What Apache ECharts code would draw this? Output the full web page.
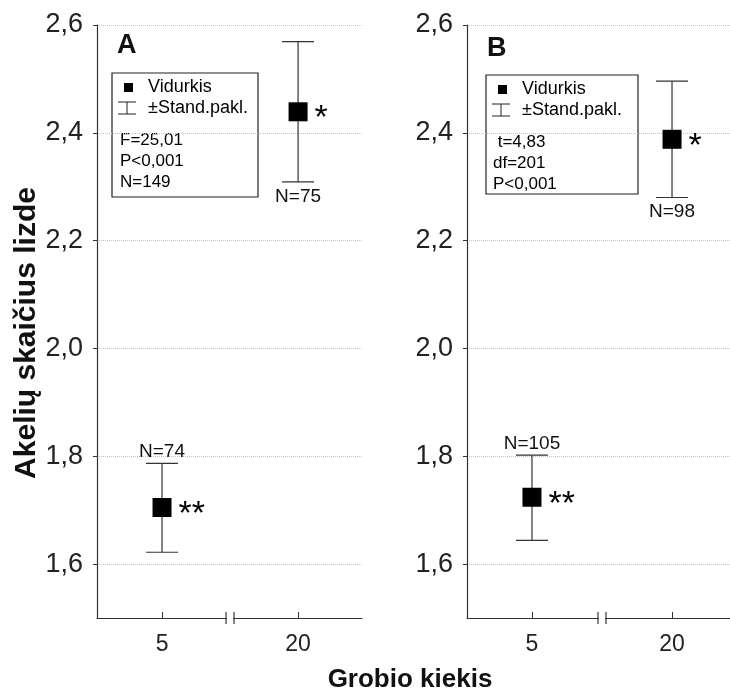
<!DOCTYPE html>
<html><head><meta charset="utf-8">
<script src="https://cdn.jsdelivr.net/npm/echarts@6/dist/echarts.min.js"></script>
<style>html,body{margin:0;padding:0;background:#fff}#c{width:730px;height:693px}</style>
</head><body><div id="c"></div>
<script>
// ---- data ----
const categories = ['5', '20'];
const yTicks = [1.6, 1.8, 2.0, 2.2, 2.4, 2.6];
const yMin = 1.5, yMax = 2.6;
const meanA = [1.705, 2.439];
const upperA = [1.787, 2.569];
const lowerA = [1.622, 2.309];
const nA = ['N=74', 'N=75'];
const starsA = ['**', '*'];
const meanB = [1.724, 2.388];
const upperB = [1.802, 2.496];
const lowerB = [1.644, 2.280];
const nB = ['N=105', 'N=98'];
const starsB = ['**', '*'];
const statsA = ['F=25,01', 'P<0,001', 'N=149'];
const statsB = [' t=4,83', 'df=201', 'P<0,001'];
const legendLabels = ['Vidurkis', '±Stand.pakl.'];
const panelLetters = ['A', 'B'];
const yTitle = 'Akelių skaičius lizde';
const xTitle = 'Grobio kiekis';

// ---- chart ----
const FONT = '"Liberation Sans", Arial, sans-serif';
const chart = echarts.init(document.getElementById('c'), null, {renderer: 'canvas'});

function xAxisCfg(gi, min, max) {
  return {
    type: 'value', gridIndex: gi, min: min, max: max,
    axisLine: {show: true, onZero: false, lineStyle: {color: '#333', width: 1.2}},
    axisTick: {show: true, inside: true, length: 6, customValues: [0, 1], lineStyle: {color: '#333'}},
    axisLabel: {customValues: [0, 1], formatter: v => categories[Math.round(v)], fontSize: 23, color: '#222', margin: 15, fontFamily: FONT},
    splitLine: {show: false}
  };
}
function yAxisCfg(gi) {
  return {
    type: 'value', gridIndex: gi, min: yMin, max: yMax,
    axisLine: {show: true, onZero: false, lineStyle: {color: '#333', width: 1.2}},
    axisTick: {show: true, length: 4, customValues: yTicks, lineStyle: {color: '#333'}},
    axisLabel: {customValues: yTicks, formatter: v => v.toFixed(1).replace('.', ','), fontSize: 27, color: '#222', margin: 14, fontFamily: FONT},
    splitLine: {show: true, lineStyle: {color: '#c4c4c4', type: [1, 1], width: 1}}
  };
}

function errSeries(gi, mean, lower, upper, nLab) {
  return {
    type: 'custom', name: '±Stand.pakl.', xAxisIndex: gi, yAxisIndex: gi, z: 3, clip: false,
    data: mean.map((m, i) => [i, lower[i], upper[i]]),
    renderItem: function (params, api) {
      const x = api.value(0);
      const pLo = api.coord([x, api.value(1)]);
      const pHi = api.coord([x, api.value(2)]);
      const half = 16;
      const ls = {stroke: '#333', lineWidth: 1.2};
      const i = params.dataIndex;
      const above = i === 0;
      return {
        type: 'group',
        children: [
          {type: 'line', shape: {x1: pHi[0], y1: pHi[1], x2: pLo[0], y2: pLo[1]}, style: ls},
          {type: 'line', shape: {x1: pHi[0] - half, y1: pHi[1], x2: pHi[0] + half, y2: pHi[1]}, style: ls},
          {type: 'line', shape: {x1: pLo[0] - half, y1: pLo[1], x2: pLo[0] + half, y2: pLo[1]}, style: ls},
          {type: 'text', style: {
            text: nLab[i], x: pHi[0], y: above ? pHi[1] - 2 : pLo[1] + 5,
            align: 'center', verticalAlign: above ? 'bottom' : 'top',
            font: '19px ' + FONT, fill: '#111'}}
        ]
      };
    }
  };
}
function meanSeries(gi, mean, stars) {
  return {
    type: 'scatter', name: 'Vidurkis', xAxisIndex: gi, yAxisIndex: gi, z: 5,
    symbol: 'rect', symbolSize: 19,
    itemStyle: {color: '#000', opacity: 1},
    label: {show: true, position: 'right', distance: 7, formatter: p => stars[p.dataIndex],
      fontSize: 34, color: '#000', fontFamily: FONT, offset: [0, 7]},
    data: mean.map((m, i) => [i, m])
  };
}
function breakSeries(gi) {
  return {
    type: 'custom', xAxisIndex: gi, yAxisIndex: gi, z: 10, clip: false, silent: true,
    data: [[0.5, yMin]],
    renderItem: function (params, api) {
      const p = api.coord([api.value(0), api.value(1)]);
      const g = 4;
      return {type: 'group', children: [
        {type: 'rect', shape: {x: p[0] - g + 1, y: p[1] - 2, width: 2 * g - 2, height: 4}, style: {fill: '#fff'}},
        {type: 'line', shape: {x1: p[0] - g, y1: p[1] - 6, x2: p[0] - g, y2: p[1] + 6}, style: {stroke: '#333', lineWidth: 1.2}},
        {type: 'line', shape: {x1: p[0] + g, y1: p[1] - 6, x2: p[0] + g, y2: p[1] + 6}, style: {stroke: '#333', lineWidth: 1.2}}
      ]};
    }
  };
}

function legendBox(x, y, w, h, stats, statX) {
  const t = (txt, tx, ty, fs) => ({type: 'text', x: tx, y: ty, style: {text: txt, font: fs + 'px ' + FONT, fill: '#000', verticalAlign: 'middle'}});
  const ch = [
    {type: 'rect', shape: {x: x, y: y, width: w, height: h}, style: {fill: '#fff', stroke: '#222', lineWidth: 1.2}},
    {type: 'rect', shape: {x: x + 12, y: y + 10, width: 9, height: 9}, style: {fill: '#000'}},
    t(legendLabels[0], x + 36, y + 14, 18),
    {type: 'line', shape: {x1: x + 6, y1: y + 29, x2: x + 24, y2: y + 29}, style: {stroke: '#222', lineWidth: 1}},
    {type: 'line', shape: {x1: x + 15, y1: y + 29, x2: x + 15, y2: y + 41}, style: {stroke: '#222', lineWidth: 1}},
    {type: 'line', shape: {x1: x + 6, y1: y + 41, x2: x + 24, y2: y + 41}, style: {stroke: '#222', lineWidth: 1}},
    t(legendLabels[1], x + 36, y + 35, 18)
  ];
  stats.forEach((s, i) => ch.push(t(s, x + statX, y + 67 + i * 21, 17)));
  return {type: 'group', children: ch};
}

const option = {
  animation: false,
  backgroundColor: '#fff',
  grid: [
    {left: 97, top: 25, width: 265, height: 593},
    {left: 467, top: 25, width: 263, height: 593}
  ],
  xAxis: [xAxisCfg(0, -0.478, 1.47), xAxisCfg(1, -0.464, 1.414)],
  yAxis: [yAxisCfg(0), yAxisCfg(1)],
  series: [
    errSeries(0, meanA, lowerA, upperA, nA), meanSeries(0, meanA, starsA), breakSeries(0),
    errSeries(1, meanB, lowerB, upperB, nB), meanSeries(1, meanB, starsB), breakSeries(1)
  ],
  graphic: [
    {type: 'text', x: 117, y: 32, style: {text: panelLetters[0], font: 'bold 27px ' + FONT, fill: '#111'}},
    {type: 'text', x: 487, y: 35, style: {text: panelLetters[1], font: 'bold 27px ' + FONT, fill: '#111'}},
    legendBox(112, 73, 146, 124, statsA, 8),
    legendBox(486, 75, 152, 119, statsB, 7),
    {type: 'text', x: 27, y: 333, rotation: Math.PI / 2,
      style: {text: yTitle, font: 'bold 30px ' + FONT, fill: '#111', align: 'center', verticalAlign: 'middle'}},
    {type: 'text', x: 410, y: 680,
      style: {text: xTitle, font: 'bold 26px ' + FONT, fill: '#111', align: 'center', verticalAlign: 'middle'}}
  ]
};
chart.setOption(option);
</script>
</body></html>
